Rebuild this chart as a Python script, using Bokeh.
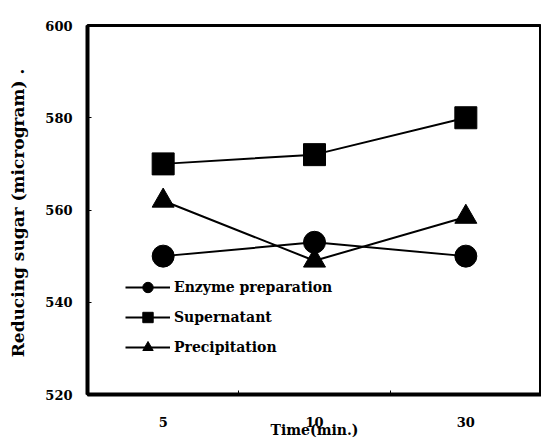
from bokeh.plotting import figure
from bokeh.models import Range1d, FixedTicker, Legend, LegendItem
from bokeh.embed import file_html
from bokeh.resources import INLINE

times = ["5", "10", "30"]
enzyme = [550, 553, 550]
supernatant = [570, 572, 580]
precipitation = [562, 549, 558.5]
y_ticks = [520, 540, 560, 580, 600]

xs = list(range(len(times)))
FONT = "DejaVu Serif"

p = figure(frame_width=454, frame_height=369, output_backend="svg", toolbar_location=None,
           x_range=Range1d(-0.5, len(times) - 0.5), y_range=Range1d(520, 600),
           min_border_left=87, min_border_right=0, min_border_top=25, min_border_bottom=48)
p.grid.visible = False
p.background_fill_color = "white"
p.border_fill_color = "white"
p.outline_line_color = "black"
p.outline_line_width = 3

p.xaxis.ticker = FixedTicker(ticks=xs, minor_ticks=[i + 0.5 for i in xs[:-1]])
p.xaxis.major_label_overrides = {i: t for i, t in zip(xs, times)}
p.yaxis.ticker = FixedTicker(ticks=y_ticks)

for ax in (p.xaxis[0], p.yaxis[0]):
    ax.axis_line_width = 4
    ax.axis_line_color = "black"
    ax.major_label_text_font = FONT
    ax.major_label_text_font_style = "bold"
    ax.major_label_text_font_size = "13px"
    ax.major_label_text_color = "black"
    ax.axis_label_text_font = FONT
    ax.axis_label_text_font_style = "bold"
    ax.axis_label_text_color = "black"

p.xaxis.major_tick_line_color = None
p.xaxis.minor_tick_in = 4
p.xaxis.minor_tick_out = 0
p.xaxis.minor_tick_line_width = 1
p.xaxis.major_label_standoff = 16
p.xaxis.axis_label = "Time(min.)"
p.xaxis.axis_label_text_font_size = "14px"
p.xaxis.axis_label_standoff = -8

p.yaxis.major_tick_in = 4
p.yaxis.major_tick_out = 0
p.yaxis.minor_tick_line_color = None
p.yaxis.major_label_standoff = 15
p.yaxis.axis_label = "Reducing sugar (microgram)  ."
p.yaxis.axis_label_text_font_size = "17px"
p.yaxis.axis_label_standoff = 14

items = []
for vals, marker, label in [(enzyme, "circle", "Enzyme preparation"),
                            (supernatant, "square", "Supernatant"),
                            (precipitation, "triangle", "Precipitation")]:
    r1 = p.line(xs, vals, line_color="black", line_width=2)
    r2 = p.scatter(xs, vals, marker=marker, size=22, fill_color="black", line_color="black")
    items.append(LegendItem(label=label, renderers=[r1, r2]))

legend = Legend(items=items, location=(38, 34), glyph_width=45, glyph_height=26, spacing=4,
                padding=0, margin=0, label_standoff=4, border_line_color=None,
                background_fill_alpha=0, label_text_font=FONT, label_text_font_style="bold",
                label_text_font_size="14px", label_text_color="black")
p.add_layout(legend)

open("out.html", "w").write(file_html(p, INLINE))
